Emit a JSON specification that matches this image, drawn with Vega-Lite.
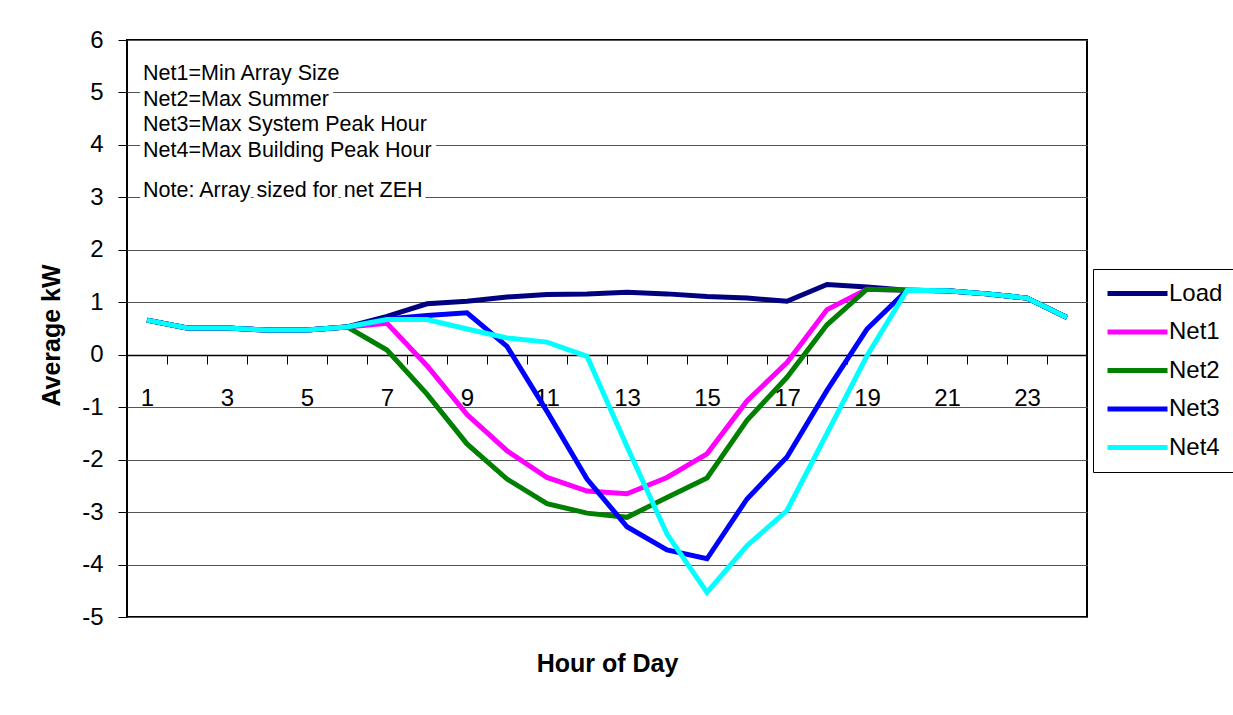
{
  "$schema": "https://vega.github.io/schema/vega-lite/v6.json",
  "autosize": "none",
  "width": 960,
  "height": 577,
  "padding": {"left": 127, "top": 40, "right": 146, "bottom": 98},
  "background": "white",
  "config": {
    "font": "Liberation Sans",
    "view": {"stroke": "black", "strokeWidth": 2}
  },
  "layer": [
    {
      "data": {
        "values": [
          {"hour": 1, "Load": 0.66, "Net1": 0.66, "Net2": 0.66, "Net3": 0.66, "Net4": 0.66},
          {"hour": 2, "Load": 0.51, "Net1": 0.51, "Net2": 0.51, "Net3": 0.51, "Net4": 0.51},
          {"hour": 3, "Load": 0.51, "Net1": 0.51, "Net2": 0.51, "Net3": 0.51, "Net4": 0.51},
          {"hour": 4, "Load": 0.47, "Net1": 0.47, "Net2": 0.47, "Net3": 0.47, "Net4": 0.47},
          {"hour": 5, "Load": 0.47, "Net1": 0.47, "Net2": 0.47, "Net3": 0.47, "Net4": 0.47},
          {"hour": 6, "Load": 0.53, "Net1": 0.53, "Net2": 0.53, "Net3": 0.53, "Net4": 0.53},
          {"hour": 7, "Load": 0.73, "Net1": 0.6, "Net2": 0.09, "Net3": 0.68, "Net4": 0.67},
          {"hour": 8, "Load": 0.97, "Net1": -0.21, "Net2": -0.75, "Net3": 0.75, "Net4": 0.67},
          {"hour": 9, "Load": 1.02, "Net1": -1.14, "Net2": -1.7, "Net3": 0.8, "Net4": 0.49},
          {"hour": 10, "Load": 1.1, "Net1": -1.83, "Net2": -2.37, "Net3": 0.16, "Net4": 0.32},
          {"hour": 11, "Load": 1.15, "Net1": -2.34, "Net2": -2.84, "Net3": -1.08, "Net4": 0.24},
          {"hour": 12, "Load": 1.16, "Net1": -2.6, "Net2": -3.02, "Net3": -2.37, "Net4": -0.03},
          {"hour": 13, "Load": 1.19, "Net1": -2.65, "Net2": -3.1, "Net3": -3.28, "Net4": -1.75},
          {"hour": 14, "Load": 1.16, "Net1": -2.34, "Net2": -2.72, "Net3": -3.72, "Net4": -3.42},
          {"hour": 15, "Load": 1.11, "Net1": -1.89, "Net2": -2.35, "Net3": -3.89, "Net4": -4.53},
          {"hour": 16, "Load": 1.08, "Net1": -0.88, "Net2": -1.25, "Net3": -2.75, "Net4": -3.64},
          {"hour": 17, "Load": 1.02, "Net1": -0.15, "Net2": -0.43, "Net3": -1.95, "Net4": -2.97},
          {"hour": 18, "Load": 1.34, "Net1": 0.86, "Net2": 0.57, "Net3": -0.68, "Net4": -1.5},
          {"hour": 19, "Load": 1.29, "Net1": 1.25, "Net2": 1.25, "Net3": 0.49, "Net4": -0.02},
          {"hour": 20, "Load": 1.23, "Net1": 1.23, "Net2": 1.23, "Net3": 1.23, "Net4": 1.23},
          {"hour": 21, "Load": 1.22, "Net1": 1.22, "Net2": 1.22, "Net3": 1.22, "Net4": 1.22},
          {"hour": 22, "Load": 1.16, "Net1": 1.16, "Net2": 1.16, "Net3": 1.16, "Net4": 1.16},
          {"hour": 23, "Load": 1.08, "Net1": 1.08, "Net2": 1.08, "Net3": 1.08, "Net4": 1.08},
          {"hour": 24, "Load": 0.71, "Net1": 0.71, "Net2": 0.71, "Net3": 0.71, "Net4": 0.71}
        ]
      },
      "transform": [
        {"fold": ["Load", "Net1", "Net2", "Net3", "Net4"], "as": ["series", "kW"]},
        {"calculate": "indexof(['Load','Net1','Net2','Net3','Net4'], datum.series)", "as": "ord"}
      ],
      "mark": {"type": "line", "strokeWidth": 5, "strokeJoin": "miter", "strokeCap": "butt"},
      "encoding": {
        "x": {
          "field": "hour", "type": "ordinal", "bandPosition": 0.5,
          "scale": {"type": "band", "paddingInner": 0, "paddingOuter": 0},
          "axis": {
            "title": "Hour of Day",
            "offset": -262,
            "labelAngle": 0,
            "labelExpr": "datum.value % 2 === 1 ? datum.label : ''",
            "labelFontSize": 24,
            "labelColor": "black",
            "labelPadding": 22,
            "tickBand": "extent",
            "tickSize": 9,
            "tickColor": "black",
            "domainColor": "black",
            "domainWidth": 1.5,
            "grid": false,
            "titleFontSize": 25,
            "titleFontWeight": "bold",
            "titleColor": "black",
            "titleX": 480,
            "titleY": 308,
            "titleBaseline": "middle"
          }
        },
        "y": {
          "field": "kW", "type": "quantitative",
          "scale": {"domain": [-5, 6], "nice": false, "zero": false},
          "axis": {
            "title": "Average kW",
            "values": [-5, -4, -3, -2, -1, 0, 1, 2, 3, 4, 5, 6],
            "labelExpr": "'' + datum.value",
            "labelFontSize": 24,
            "labelColor": "black",
            "labelPadding": 15,
            "tickSize": 9,
            "tickColor": "black",
            "domain": false,
            "gridColor": "#555555",
            "gridWidth": 1,
            "gridOpacity": 1,
            "titleFontSize": 25,
            "titleFontWeight": "bold",
            "titleColor": "black",
            "titleX": -76,
            "titleY": 295,
            "titleBaseline": "middle"
          }
        },
        "color": {
          "field": "series", "type": "nominal",
          "scale": {"domain": ["Load", "Net1", "Net2", "Net3", "Net4"], "range": ["#000080", "#FF00FF", "#008000", "#0000FF", "#00FFFF"]},
          "legend": {
            "title": null,
            "orient": "none",
            "legendX": 966,
            "legendY": 229,
            "strokeColor": "black",
            "fillColor": "white",
            "padding": 12,
            "symbolType": "M-1,0H5",
            "symbolSize": 400,
            "symbolStrokeWidth": 5,
            "labelFontSize": 24,
            "labelColor": "black",
            "labelOffset": 39,
            "rowPadding": 13.5,
            "symbolOffset": 0
          }
        },
        "order": {"field": "ord", "type": "quantitative"}
      }
    },
    {
      "data": {
        "values": [
          {"hour": 1, "y": 5.35, "label": "Net1=Min Array Size"},
          {"hour": 1, "y": 4.86, "label": "Net2=Max Summer"},
          {"hour": 1, "y": 4.38, "label": "Net3=Max System Peak Hour"},
          {"hour": 1, "y": 3.89, "label": "Net4=Max Building Peak Hour"},
          {"hour": 1, "y": 3.12, "label": "Note:  Array sized for net ZEH"}
        ]
      },
      "layer": [
        {
          "mark": {"type": "text", "align": "left", "baseline": "middle", "dx": -4, "fontSize": 21.5, "stroke": "white", "strokeWidth": 9, "fill": "white"},
          "encoding": {
            "x": {"field": "hour", "type": "ordinal", "bandPosition": 0.5},
            "y": {"field": "y", "type": "quantitative"},
            "text": {"field": "label"}
          }
        },
        {
          "mark": {"type": "text", "align": "left", "baseline": "middle", "dx": -4, "fontSize": 21.5, "fill": "black"},
          "encoding": {
            "x": {"field": "hour", "type": "ordinal", "bandPosition": 0.5},
            "y": {"field": "y", "type": "quantitative"},
            "text": {"field": "label"}
          }
        }
      ]
    }
  ]
}
